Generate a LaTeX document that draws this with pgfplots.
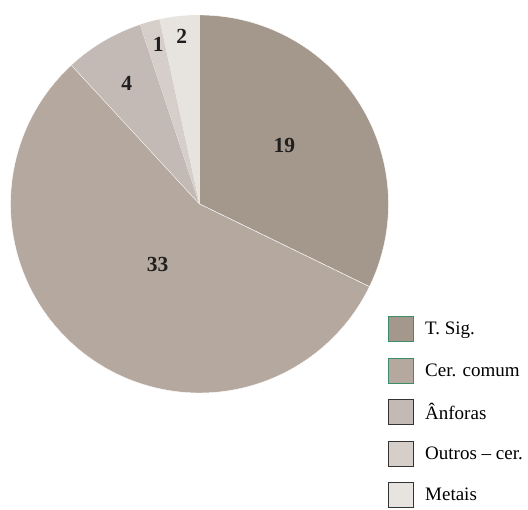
\documentclass[border=0pt]{standalone}
\usepackage{pgfplots}
\pgfplotsset{compat=1.18}
\usepackage{pgfplotstable}
\usepackage{fontspec}
\newfontfamily\legfont{Liberation Serif}
\definecolor{cA}{HTML}{A4978C}
\definecolor{cB}{HTML}{B5A89F}
\definecolor{cC}{HTML}{C3BAB5}
\definecolor{cD}{HTML}{D5CEC9}
\definecolor{cE}{HTML}{E7E4E0}
\definecolor{bGreen}{HTML}{3E8C6A}
\definecolor{bDark}{HTML}{333333}

\pgfplotstableread{
label value
TSig 19
CerComum 33
Anforas 4
Outros 1
Metais 2
}\piedata

\pgfplotstablegetelem{0}{value}\of\piedata \let\vA\pgfplotsretval
\pgfplotstablegetelem{1}{value}\of\piedata \let\vB\pgfplotsretval
\pgfplotstablegetelem{2}{value}\of\piedata \let\vC\pgfplotsretval
\pgfplotstablegetelem{3}{value}\of\piedata \let\vD\pgfplotsretval
\pgfplotstablegetelem{4}{value}\of\piedata \let\vE\pgfplotsretval
\pgfmathsetmacro\total{\vA+\vB+\vC+\vD+\vE}
\pgfmathsetmacro\aA{90}
\pgfmathsetmacro\aB{\aA-360*\vA/\total}
\pgfmathsetmacro\aC{\aB-360*\vB/\total}
\pgfmathsetmacro\aD{\aC-360*\vC/\total}
\pgfmathsetmacro\aE{\aD-360*\vD/\total}
\pgfmathsetmacro\aF{\aE-360*\vE/\total}
\def\cx{199.5}
\def\cy{306}
\def\r{189}
\newcommand{\numfont}{\legfont\bfseries\fontsize{21.5}{24}\selectfont}

\begin{document}
\begin{tikzpicture}
\begin{axis}[
  scale only axis, width=528pt, height=510pt,
  xmin=0, xmax=528, ymin=0, ymax=510,
  hide axis, clip=false,
  legend image code/.code={\draw[#1, line width=1pt] (0pt,-12.5pt) rectangle (25pt,12.5pt);},
  legend style={at={(axis cs:388,194)}, anchor=north west, draw=none, fill=none,
    inner sep=0pt, row sep=15.5pt, font=\legfont\fontsize{19}{22}\selectfont,
    nodes={inner sep=0pt}, column sep=11pt},
  legend cell align=left,
]
\addplot[forget plot, fill=cA, draw=white, line width=0.4pt, domain=\aB:\aA, samples=90]
  ({\cx+\r*cos(x)},{\cy+\r*sin(x)}) -- (axis cs:\cx,\cy) -- cycle;
\addplot[forget plot, fill=cB, draw=white, line width=0.4pt, domain=\aC:\aB, samples=140]
  ({\cx+\r*cos(x)},{\cy+\r*sin(x)}) -- (axis cs:\cx,\cy) -- cycle;
\addplot[forget plot, fill=cC, draw=white, line width=0.2pt, domain=\aD:\aC, samples=30]
  ({\cx+\r*cos(x)},{\cy+\r*sin(x)}) -- (axis cs:\cx,\cy) -- cycle;
\addplot[forget plot, fill=cD, draw=none, domain=\aE:\aD, samples=12]
  ({\cx+\r*cos(x)},{\cy+\r*sin(x)}) -- (axis cs:\cx,\cy) -- cycle;
\addplot[forget plot, fill=cE, draw=none, domain=\aF:\aE, samples=20]
  ({\cx+\r*cos(x)},{\cy+\r*sin(x)}) -- (axis cs:\cx,\cy) -- cycle;

\addlegendimage{fill=cA, draw=bGreen}
\addlegendentry{T. Sig.}
\addlegendimage{fill=cB, draw=bGreen}
\addlegendentry{Cer. comum}
\addlegendimage{fill=cC, draw=bDark}
\addlegendentry{Ânforas}
\addlegendimage{fill=cD, draw=bDark}
\addlegendentry{Outros – cer.}
\addlegendimage{fill=cE, draw=bDark}
\addlegendentry{Metais}

\node[font=\numfont, text=black!88] at (axis cs:284.3,364.3) {19};
\node[font=\numfont, text=black!88] at (axis cs:157.7,246) {33};
\node[font=\numfont, text=black!88] at (axis cs:126.7,426.7) {4};
\node[font=\numfont, text=black!88] at (axis cs:158.3,466) {1};
\node[font=\numfont, text=black!88] at (axis cs:181.7,473.3) {2};
\end{axis}
\pgfresetboundingbox
\useasboundingbox (current axis.south west) rectangle (current axis.north east);
\end{tikzpicture}
\end{document}
